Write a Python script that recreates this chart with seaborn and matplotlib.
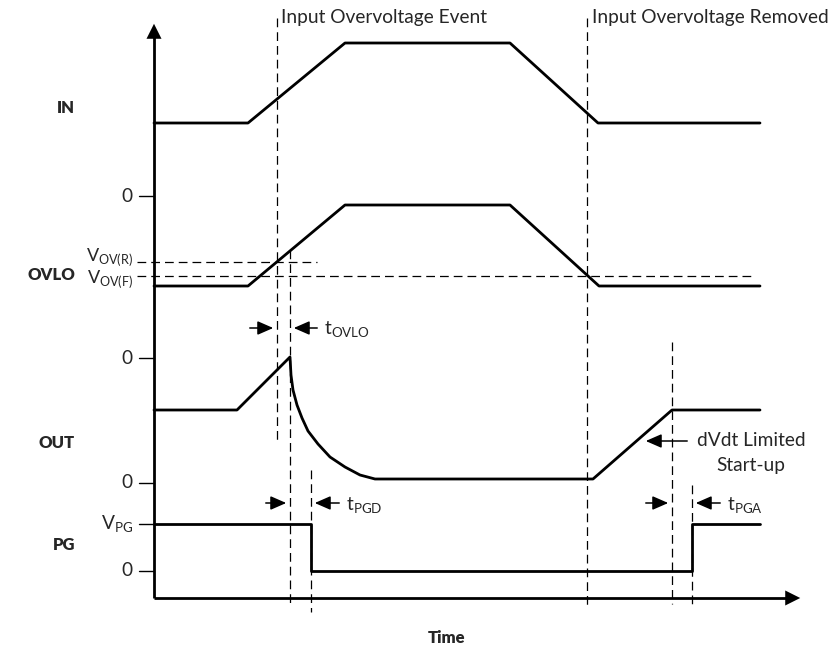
import matplotlib
matplotlib.use("Agg")
import matplotlib.pyplot as plt
import seaborn as sns

sns.set_theme(style="white")
plt.rcParams["font.family"] = ["Lato", "DejaVu Sans"]
plt.rcParams["mathtext.fontset"] = "custom"
plt.rcParams["mathtext.rm"] = "Lato"

# waveforms (time in diagram units, level in diagram units, y grows downward)
in_t = [154, 248, 345, 510, 598, 760]
in_v = [123, 123, 43, 43, 123, 123]

ovlo_t = [154, 248, 345, 510, 599, 760]
ovlo_v = [286, 286, 205, 205, 286, 286]

out_t = [154, 237, 290, 291, 293, 297, 302, 308, 318, 330, 345, 360, 375, 593, 672, 760]
out_v = [410, 410, 357, 375, 390, 405, 418, 431, 444, 457, 467, 475, 479, 479, 410, 410]

pg_t = [154, 311, 311, 692, 692, 760]
pg_v = [524, 524, 571, 571, 524, 524]

signals = ["IN", "OVLO", "OUT", "PG"]
signal_y = [108, 275, 443, 545]

tick_y = [196, 358, 483, 524, 571]
tick_labels = ["0", "0", "0", r"V$_\mathrm{PG}$", "0"]

vov_r, vov_f = 262, 276
vov_r_end, vov_f_end = 317, 753

# event markers: time, top, bottom
marker_t = [277, 290, 311, 587, 672, 692]
marker_top = [18, 250, 470, 18, 342, 485]
marker_bot = [440, 606, 612, 607, 604, 604]

fig = plt.figure(figsize=(8.39, 6.58), dpi=100)
ax = fig.add_axes([0, 0, 1, 1])
ax.set_xlim(0, 839)
ax.set_ylim(658, 0)
ax.axis("off")

dash = dict(color="black", lw=0.9, linestyle=(0, (7, 4)))
for t, y0, y1 in zip(marker_t, marker_top, marker_bot):
    ax.plot([t, t], [y0, y1], **dash)
ax.plot([137, vov_r_end], [vov_r, vov_r], **dash)
ax.plot([137, vov_f_end], [vov_f, vov_f], **dash)

for t, v in [(in_t, in_v), (ovlo_t, ovlo_v), (out_t, out_v), (pg_t, pg_v)]:
    sns.lineplot(x=t, y=v, sort=False, estimator=None, color="black", lw=2.0, ax=ax)

# axes with arrows
ax.plot([154, 154], [598, 34], color="black", lw=2.0, solid_capstyle="butt")
ax.plot([154, 790], [598, 598], color="black", lw=2.0, solid_capstyle="butt")
ax.annotate("", xy=(154, 21), xytext=(154, 40),
            arrowprops=dict(arrowstyle="-|>,head_length=0.9,head_width=0.45", color="black", lw=0))
ax.annotate("", xy=(803, 598), xytext=(784, 598),
            arrowprops=dict(arrowstyle="-|>,head_length=0.9,head_width=0.45", color="black", lw=0))

fs = 13.8
for y, lab in zip(tick_y, tick_labels):
    ax.plot([139, 154], [y, y], color="black", lw=1.0)
    ax.text(133, y, lab, ha="right", va="center", fontsize=fs)
ax.text(133, vov_r - 5, r"V$_\mathrm{OV(R)}$", ha="right", va="center", fontsize=fs - 0.8)
ax.text(133, vov_f + 3, r"V$_\mathrm{OV(F)}$", ha="right", va="center", fontsize=fs - 0.8)

for y, lab in zip(signal_y, signals):
    ax.text(75, y, lab, ha="right", va="center", fontsize=fs - 1.8, fontweight="heavy")
ax.text(447, 638, "Time", ha="center", va="center", fontsize=fs - 1.8, fontweight="heavy")

ax.text(281, 17, "Input Overvoltage Event", ha="left", va="center", fontsize=fs)
ax.text(592, 17, "Input Overvoltage Removed", ha="left", va="center", fontsize=fs)

arrow = dict(arrowstyle="-|>,head_length=0.8,head_width=0.35", color="black", lw=1.1)
# t_OVLO
ax.annotate("", xy=(276, 328), xytext=(247, 328), arrowprops=arrow)
ax.annotate("", xy=(291, 328), xytext=(320, 328), arrowprops=arrow)
ax.text(324, 330, r"t$_\mathrm{OVLO}$", ha="left", va="center", fontsize=fs)
# t_PGD
ax.annotate("", xy=(289, 503), xytext=(263, 503), arrowprops=arrow)
ax.annotate("", xy=(312, 503), xytext=(342, 503), arrowprops=arrow)
ax.text(346, 506, r"t$_\mathrm{PGD}$", ha="left", va="center", fontsize=fs)
# t_PGA
ax.annotate("", xy=(671, 503), xytext=(643, 503), arrowprops=arrow)
ax.annotate("", xy=(693, 503), xytext=(723, 503), arrowprops=arrow)
ax.text(727, 506, r"t$_\mathrm{PGA}$", ha="left", va="center", fontsize=fs)
# dVdt
ax.annotate("", xy=(643, 441), xytext=(690, 441), arrowprops=arrow)
ax.text(751, 441, "dVdt Limited", ha="center", va="center", fontsize=fs)
ax.text(751, 466, "Start-up", ha="center", va="center", fontsize=fs)

fig.savefig("out.png", dpi=100)
